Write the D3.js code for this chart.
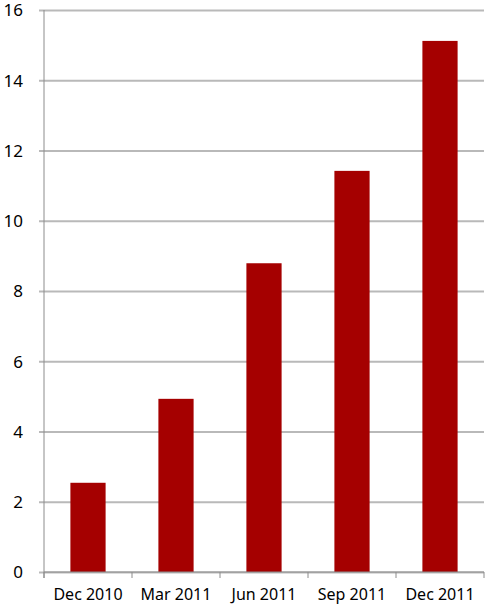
<!DOCTYPE html>
<html>
<head>
<meta charset="utf-8">
<script src="https://cdn.jsdelivr.net/npm/d3@7"></script>
<style>
  body { margin: 0; background: #fff; }
  text { font-family: "Noto Sans", "Open Sans", sans-serif; fill: #000; }
</style>
</head>
<body>
<div id="vis"></div>
<script>
// data
var quarters = ["Dec 2010", "Mar 2011", "Jun 2011", "Sep 2011", "Dec 2011"];
var values = [2.54, 4.93, 8.79, 11.42, 15.12];
var yTicks = [0, 2, 4, 6, 8, 10, 12, 14, 16];

var margin = {top: 10, right: 3, bottom: 40, left: 44},
    width = 487 - margin.left - margin.right,
    height = 612 - margin.top - margin.bottom;

var svg = d3.select("#vis")
    .append("svg")
    .attr("width", 487)
    .attr("height", 612)
    .append("g")
    .attr("transform", "translate(" + margin.left + "," + margin.top + ")");

var x = d3.scaleBand()
    .domain(quarters)
    .range([0, width])
    .paddingInner(0.6)
    .paddingOuter(0.3);

var y = d3.scaleLinear().domain([0, 16]).range([height, 0]);

// gridlines + y labels
var yAxis = svg.append("g")
    .attr("class", "axis y-axis")
    .call(d3.axisLeft(y).tickValues(yTicks).tickSize(-width - 5));
yAxis.select(".domain").remove();
yAxis.selectAll(".tick line")
    .attr("x1", -5)
    .attr("x2", width)
    .attr("stroke", "#b9b9b9")
    .attr("stroke-width", 2);
yAxis.selectAll(".tick text")
    .attr("x", -21)
    .attr("dy", "0.35em")
    .style("font-size", "17px");

// bars
svg.selectAll(".bar")
    .data(values)
    .enter().append("rect")
    .attr("class", "bar")
    .attr("x", function(d, i) { return x(quarters[i]); })
    .attr("width", x.bandwidth())
    .attr("y", function(d) { return y(d); })
    .attr("height", function(d) { return height - y(d); })
    .attr("fill", "#a50000");

// left axis line
svg.append("line")
    .attr("x1", 0).attr("x2", 0)
    .attr("y1", 0).attr("y2", height + 6)
    .attr("stroke", "#8c8c8c");

// x axis, labels centred under bars
var xAxis = svg.append("g")
    .attr("class", "axis x-axis")
    .attr("transform", "translate(0," + height + ")")
    .call(d3.axisBottom(x).tickSize(0).tickPadding(17));
xAxis.select(".domain").remove();
xAxis.selectAll(".tick text").style("font-size", "16px");

svg.append("line")
    .attr("x1", 0).attr("x2", width)
    .attr("y1", height).attr("y2", height)
    .attr("stroke", "#8c8c8c");

// ticks at the category boundaries
var bounds = d3.range(quarters.length + 1).map(function(i) { return i * x.step(); });
svg.selectAll(".xtick")
    .data(bounds)
    .enter().append("line")
    .attr("class", "xtick")
    .attr("x1", function(d) { return d; })
    .attr("x2", function(d) { return d; })
    .attr("y1", height)
    .attr("y2", height + 6)
    .attr("stroke", "#8c8c8c");
</script>
</body>
</html>
